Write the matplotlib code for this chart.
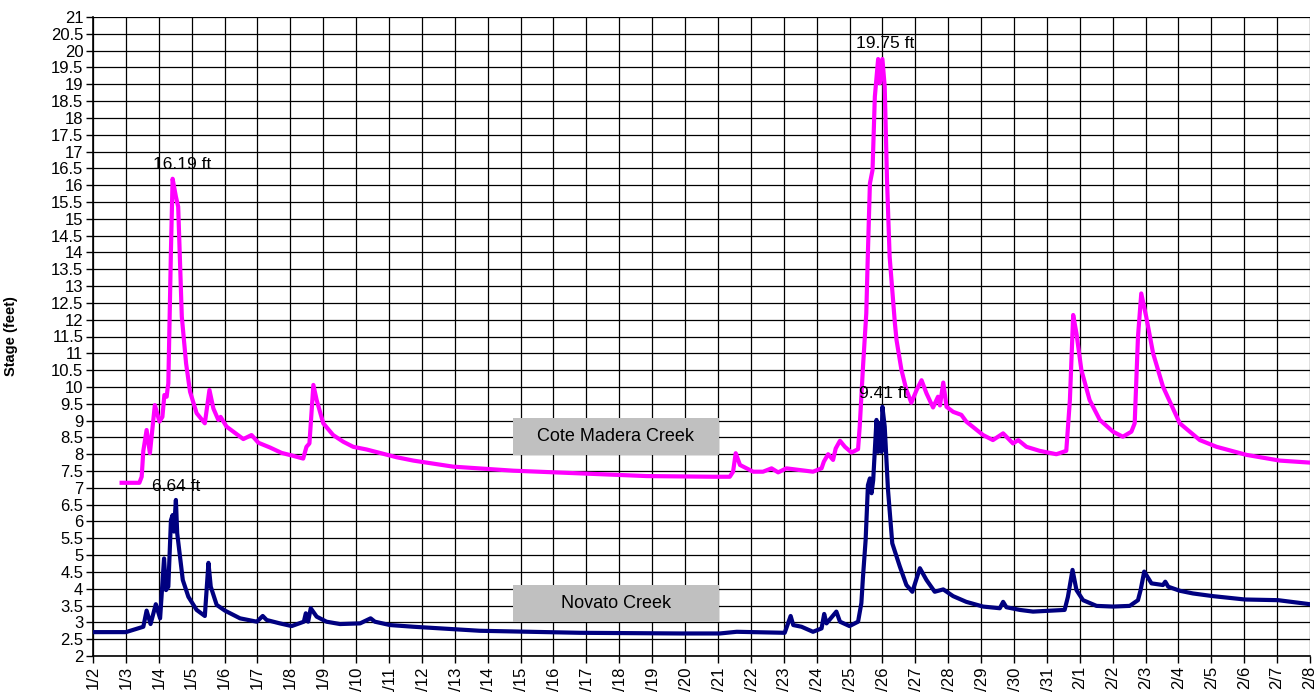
import matplotlib
matplotlib.use("Agg")
import matplotlib.pyplot as plt
from matplotlib.patches import Rectangle
import numpy as np

plt.rcParams['font.family'] = ['Liberation Sans', 'DejaVu Sans']

# day labels, one per day from 1/2 to 2/8
day_labels = ["1/%d" % d for d in range(2, 32)] + ["2/%d" % d for d in range(1, 9)]

# Cote Madera Creek stage (feet); x = days after 1/2
cote_days = [0.87, 1.41, 1.48, 1.53, 1.63, 1.73, 1.88, 2.02, 2.11, 2.17, 2.24, 2.27,
             2.29, 2.37, 2.42, 2.52, 2.59, 2.70, 2.83, 2.95, 3.15, 3.40, 3.54, 3.66,
             3.81, 3.88, 4.06, 4.57, 4.82, 5.03, 5.38, 5.73, 6.09, 6.39, 6.49, 6.58,
             6.70, 6.80, 7.00, 7.30, 7.61, 7.91, 8.32, 8.72, 9.23, 9.74, 10.95, 12.78,
             14.80, 16.83, 18.85, 19.36, 19.46, 19.54, 19.67, 19.87, 20.07, 20.37, 20.63,
             20.83, 21.08, 21.49, 21.89, 22.15, 22.22, 22.35, 22.50, 22.58, 22.71, 22.86,
             23.06, 23.26, 23.31, 23.41, 23.51, 23.55, 23.62, 23.70, 23.77, 23.87, 23.92,
             24.00, 24.07, 24.14, 24.22, 24.38, 24.43, 24.58, 24.73, 24.88, 25.04, 25.19,
             25.34, 25.54, 25.69, 25.75, 25.85, 25.95, 26.15, 26.40, 26.55, 27.06, 27.36,
             27.67, 27.97, 28.13, 28.38, 28.78, 29.29, 29.59, 29.70, 29.80, 29.90, 30.05,
             30.30, 30.61, 31.01, 31.31, 31.57, 31.67, 31.77, 31.87, 32.02, 32.23, 32.53,
             33.04, 33.65, 34.16, 35.07, 36.08, 37.00]
cote_stage = [7.15, 7.15, 7.33, 8.10, 8.72, 8.03, 9.46, 8.97, 9.11, 9.76, 9.71, 9.97,
              10.1, 14.07, 16.19, 15.66, 15.36, 12.09, 10.70, 9.86, 9.22, 8.92, 9.91, 9.36,
              9.02, 9.11, 8.82, 8.45, 8.57, 8.34, 8.20, 8.04, 7.95, 7.87, 8.22, 8.32,
              10.06, 9.61, 8.92, 8.57, 8.37, 8.22, 8.14, 8.04, 7.91, 7.81, 7.63, 7.51,
              7.43, 7.35, 7.33, 7.33, 7.48, 8.03, 7.68, 7.58, 7.48, 7.48, 7.58,
              7.46, 7.58, 7.53, 7.48, 7.58, 7.78, 8.00, 7.83, 8.17, 8.40, 8.22,
              8.05, 8.15, 8.82, 10.60, 12.19, 13.68, 16.05, 16.45, 18.63, 19.75, 19.03,
              19.75, 18.93, 16.15, 13.87, 11.89, 11.39, 10.50, 9.91, 9.53, 9.91, 10.20,
              9.81, 9.39, 9.71, 9.45, 10.13, 9.41, 9.26, 9.17, 8.97, 8.57, 8.42,
              8.62, 8.32, 8.42, 8.22, 8.10, 8.00, 8.10, 9.61, 12.14, 11.59, 10.50,
              9.61, 9.02, 8.67, 8.52, 8.67, 8.92, 11.49, 12.78, 12.09, 11.00, 10.01,
              8.92, 8.42, 8.22, 7.98, 7.81, 7.75]

# Novato Creek stage (feet)
novato_days = [0.00, 1.00, 1.53, 1.63, 1.75, 1.91, 2.04, 2.16, 2.22, 2.29, 2.37, 2.42,
               2.46, 2.52, 2.56, 2.73, 2.90, 3.15, 3.40, 3.51, 3.58, 3.76, 4.01, 4.47,
               4.98, 5.16, 5.28, 5.68, 6.04, 6.41, 6.47, 6.54, 6.62, 6.80, 7.10, 7.51,
               8.12, 8.44, 8.57, 9.03, 9.74, 11.76, 14.80, 17.84, 19.06, 19.57, 21.03,
               21.21, 21.29, 21.54, 21.89, 22.15, 22.23, 22.30, 22.60, 22.71, 23.00, 23.26,
               23.36, 23.41, 23.49, 23.56, 23.62, 23.67, 23.72, 23.82, 23.87, 23.92, 23.97,
               24.00, 24.07, 24.17, 24.30, 24.53, 24.73, 24.91, 25.14, 25.34, 25.59, 25.85,
               26.15, 26.55, 27.06, 27.57, 27.67, 27.77, 28.18, 28.58, 29.54, 29.64, 29.78,
               29.90, 30.10, 30.51, 31.01, 31.52, 31.77, 31.85, 31.96, 32.18, 32.53, 32.60,
               32.69, 33.04, 33.44, 34.05, 35.02, 36.03, 37.00]
novato_stage = [2.71, 2.71, 2.87, 3.35, 2.95, 3.54, 3.12, 4.90, 3.96, 4.06, 6.04, 6.19,
                5.70, 6.64, 5.65, 4.26, 3.76, 3.37, 3.19, 4.77, 4.06, 3.52, 3.35, 3.12,
                3.02, 3.19, 3.07, 2.97, 2.89, 3.02, 3.27, 3.02, 3.42, 3.17, 3.02, 2.95,
                2.97, 3.12, 3.02, 2.92, 2.87, 2.75, 2.69, 2.67, 2.67, 2.72, 2.69,
                3.19, 2.92, 2.87, 2.72, 2.82, 3.25, 2.97, 3.32, 3.02, 2.89, 3.02,
                3.57, 4.36, 5.45, 7.08, 7.28, 6.84, 7.23, 9.02, 8.07, 8.92, 8.07,
                9.41, 8.82, 6.94, 5.35, 4.66, 4.11, 3.91, 4.61, 4.26, 3.91, 3.98,
                3.78, 3.61, 3.47, 3.42, 3.61, 3.45, 3.37, 3.32, 3.37, 3.76, 4.56,
                3.96, 3.66, 3.49, 3.47, 3.49, 3.66, 3.96, 4.51, 4.16, 4.11, 4.21,
                4.06, 3.94, 3.86, 3.78, 3.68, 3.66, 3.54]

# peak labels
peak_text = ["16.19 ft", "19.75 ft", "9.41 ft", "6.64 ft"]
peak_x = [2.70, 24.07, 24.04, 2.54]
peak_y = [16.6, 20.2, 9.81, 7.03]

fig = plt.figure(figsize=(13.16, 6.92), dpi=100)
ax = fig.add_axes([93/1316, 36/692, 1217/1316, 639/692])

ax.plot(cote_days, cote_stage, color='#FF00FF', lw=3, solid_joinstyle='round', zorder=3)
ax.plot(novato_days, novato_stage, color='#000080', lw=3, solid_joinstyle='round', zorder=3)

for t, x, y in zip(peak_text, peak_x, peak_y):
    ax.text(x, y, t, ha='center', va='center', fontsize=12.5, zorder=4)

# series label boxes
for name, yc in [("Cote Madera Creek", 8.54), ("Novato Creek", 3.57)]:
    ax.add_patch(Rectangle((12.77, yc - 0.55), 6.26, 1.1, facecolor='#C0C0C0',
                           edgecolor='none', zorder=4))
    ax.text(15.9, yc, name, ha='center', va='center', fontsize=13, zorder=5)

ax.set_xlim(0, 37)
ax.set_ylim(2, 21)
ax.set_xticks(np.arange(len(day_labels)))
ax.set_xticklabels(day_labels, rotation=90, fontsize=12)
yt = np.arange(2, 21.01, 0.5)
ax.set_yticks(yt)
ax.set_yticklabels(["%g" % v for v in yt], fontsize=12)
ax.tick_params(direction='out', length=5, width=1, pad=2)
ax.grid(True, color='black', lw=0.9)
ax.set_axisbelow(True)
for s in ['top', 'right']:
    ax.spines[s].set_visible(False)
ax.spines['left'].set_linewidth(1.2)
ax.spines['bottom'].set_linewidth(1.2)

ax.set_ylabel("Stage (feet)", fontsize=10.5, fontweight='bold')
ax.yaxis.set_label_coords(-0.062, 0.5)

plt.savefig('out.png', dpi=100)
